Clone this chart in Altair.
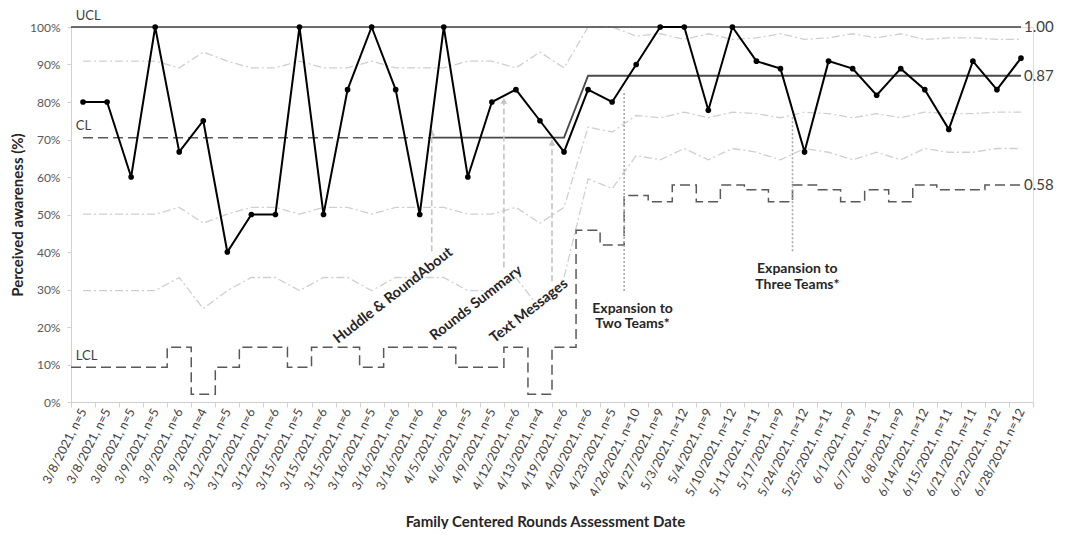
import json
import altair as alt
import pandas as pd

# ---------------- data ----------------
labels = [
    "3/8/2021, n=5", "3/8/2021, n=5", "3/8/2021, n=5", "3/9/2021, n=5", "3/9/2021, n=6",
    "3/9/2021, n=4", "3/12/2021, n=5", "3/12/2021, n=6", "3/12/2021, n=6", "3/15/2021, n=5",
    "3/15/2021, n=6", "3/15/2021, n=6", "3/16/2021, n=5", "3/16/2021, n=6", "3/16/2021, n=6",
    "4/5/2021, n=6", "4/6/2021, n=5", "4/9/2021, n=5", "4/12/2021, n=6", "4/13/2021, n=4",
    "4/19/2021, n=6", "4/20/2021, n=6", "4/23/2021, n=5", "4/26/2021, n=10", "4/27/2021, n=9",
    "5/3/2021, n=12", "5/4/2021, n=9", "5/10/2021, n=12", "5/11/2021, n=11", "5/17/2021, n=9",
    "5/24/2021, n=12", "5/25/2021, n=11", "6/1/2021, n=9", "6/7/2021, n=11", "6/8/2021, n=9",
    "6/14/2021, n=12", "6/15/2021, n=11", "6/21/2021, n=11", "6/22/2021, n=12", "6/28/2021, n=12",
]
awareness = [
    0.800, 0.800, 0.600, 1.000, 0.667, 0.750, 0.400, 0.500, 0.500, 1.000,
    0.500, 0.833, 1.000, 0.833, 0.500, 1.000, 0.600, 0.800, 0.833, 0.750,
    0.667, 0.833, 0.800, 0.900, 1.000, 1.000, 0.778, 1.000, 0.909, 0.889,
    0.667, 0.909, 0.889, 0.818, 0.889, 0.833, 0.727, 0.909, 0.833, 0.917,
]
lcl = [
    0.093, 0.093, 0.093, 0.093, 0.146, 0.021, 0.093, 0.146, 0.146, 0.093,
    0.146, 0.146, 0.093, 0.146, 0.146, 0.146, 0.093, 0.093, 0.146, 0.021,
    0.146, 0.458, 0.419, 0.551, 0.534, 0.579, 0.534, 0.579, 0.566, 0.534,
    0.579, 0.566, 0.534, 0.566, 0.534, 0.579, 0.566, 0.566, 0.579, 0.579,
]
plus1 = [
    0.909, 0.909, 0.909, 0.909, 0.891, 0.933, 0.909, 0.891, 0.891, 0.909,
    0.891, 0.891, 0.909, 0.891, 0.891, 0.891, 0.909, 0.909, 0.891, 0.933,
    0.891, 1.000, 1.000, 0.976, 0.982, 0.967, 0.982, 0.967, 0.971, 0.982,
    0.967, 0.971, 0.982, 0.971, 0.982, 0.967, 0.971, 0.971, 0.967, 0.967,
]
minus1 = [
    0.501, 0.501, 0.501, 0.501, 0.519, 0.477, 0.501, 0.519, 0.519, 0.501,
    0.519, 0.519, 0.501, 0.519, 0.519, 0.519, 0.501, 0.501, 0.519, 0.477,
    0.519, 0.733, 0.720, 0.764, 0.758, 0.773, 0.758, 0.773, 0.769, 0.758,
    0.773, 0.769, 0.758, 0.769, 0.758, 0.773, 0.769, 0.769, 0.773, 0.773,
]
minus2 = [
    0.297, 0.297, 0.297, 0.297, 0.332, 0.249, 0.297, 0.332, 0.332, 0.297,
    0.332, 0.332, 0.297, 0.332, 0.332, 0.332, 0.297, 0.297, 0.332, 0.249,
    0.332, 0.595, 0.569, 0.657, 0.646, 0.676, 0.646, 0.676, 0.666, 0.646,
    0.676, 0.666, 0.646, 0.666, 0.646, 0.676, 0.666, 0.666, 0.676, 0.676,
]
ucl_value = 1.00
cl_phase1 = 0.705
cl_phase2 = 0.87
phase2_start = 21          # index of 4/20/2021
cl_dash_end = 15           # dashed baseline part ends here

ann_text = ["Huddle & RoundAbout", "Rounds Summary", "Text Messages"]
ann_x = [13.4, 16.85, 19.05]
ann_y = [0.283, 0.263, 0.242]
arrow_x = [15, 18, 20]
arrow_from = [0.402, 0.359, 0.322]
arrow_to = [0.726, 0.811, 0.700]

exp_text = ["Expansion to\nTwo Teams*", "Expansion to\nThree Teams*"]
exp_x = [23.35, 30.2]
exp_y = [0.249, 0.354]
dot_x = [23, 30]
dot_from = [0.296, 0.402]
dot_to = [0.83, 0.76]

N = len(labels)
FONT = "Lato"
W, H = 962, 375
BAND = W / N

# ---------------- frames ----------------
pts = pd.DataFrame({"x": [i + 0.5 for i in range(N)], "y": awareness})

lcl_df = pd.DataFrame({"x": list(range(N)) + [N - 0.5], "y": lcl + [lcl[-1]]})

sig_rows = []
for name, arr in [("p1", plus1), ("m1", minus1), ("m2", minus2)]:
    for i, v in enumerate(arr):
        sig_rows.append({"x": i + 0.5, "y": v, "s": name})
sig_df = pd.DataFrame(sig_rows)

ucl_df = pd.DataFrame({"x": [0, N - 0.5], "y": [ucl_value, ucl_value]})
cl_dash_df = pd.DataFrame({"x": [0.5, cl_dash_end], "y": [cl_phase1, cl_phase1]})
cl_solid_df = pd.DataFrame({
    "x": [cl_dash_end, phase2_start - 0.5, phase2_start + 0.5, N - 0.5],
    "y": [cl_phase1, cl_phase1, cl_phase2, cl_phase2],
})

arrows_df = pd.DataFrame({"x": arrow_x, "y": arrow_from, "y2": arrow_to})
dots_df = pd.DataFrame({"x": dot_x, "y": dot_from, "y2": dot_to})
ann_df = pd.DataFrame({"x": ann_x, "y": ann_y, "t": ann_text})
exp_df = pd.DataFrame({"x": exp_x, "y": exp_y, "t": exp_text})

right_df = pd.DataFrame({"x": [N - 0.5] * 3, "y": [ucl_value, cl_phase2, lcl[-1]],
                         "t": ["1.00", "0.87", "0.58"]})
left_df = pd.DataFrame({"x": [0.2] * 3, "y": [ucl_value, cl_phase1, lcl[0]],
                        "t": ["UCL", "CL", "LCL"]})

# ---------------- scales / axes ----------------
label_expr = "datum.value < %d ? %s[datum.value] : ''" % (N, json.dumps(labels))

xscale = alt.Scale(domain=[0, N], nice=False, zero=False)
yscale = alt.Scale(domain=[0, 1], nice=False)

x_axis = alt.Axis(
    values=list(range(N + 1)), tickCount=N + 5, labelExpr=label_expr, labelAngle=-63,
    labelOffset=BAND / 2, labelOverlap=False, labelFlush=False, labelBound=False,
    labelFont=FONT, labelFontSize=12.5, labelColor="#404040", labelPadding=2,
    grid=False, tickSize=5, tickColor="#d0d0d0", domainColor="#d0d0d0",
    title="Family Centered Rounds Assessment Date", titleFont=FONT, titleFontSize=15,
    titleFontWeight="bold", titleColor="#262626", titleX=474, titleY=119,
    titleBaseline="middle", titleAlign="center",
)
y_axis = alt.Axis(
    values=[i / 10 for i in range(11)], tickCount=20, format=".0%", grid=False,
    labelOverlap=False, labelFont=FONT, labelFontSize=12, labelColor="#595959",
    labelPadding=7, tickSize=4, tickColor="#d0d0d0", domainColor="#d0d0d0",
    title="Perceived awareness  (%)", titleFont=FONT, titleFontSize=15,
    titleFontWeight="bold", titleColor="#262626", titleX=-54, titleY=H / 2,
    titleBaseline="middle", titleAlign="center",
)

X = alt.X("x:Q", scale=xscale, axis=x_axis)
Y = alt.Y("y:Q", scale=yscale, axis=y_axis)
Xn = alt.X("x:Q", scale=xscale)
Yn = alt.Y("y:Q", scale=yscale)

# ---------------- layers ----------------
sigma = alt.Chart(sig_df).mark_line(
    color="#cfcfcf", strokeWidth=1.3, strokeDash=[8, 3, 2, 3]
).encode(x=X, y=Y, detail="s:N")

lcl_line = alt.Chart(lcl_df).mark_line(
    color="#595959", strokeWidth=1.5, strokeDash=[10, 5], interpolate="step-after"
).encode(x=Xn, y=Yn)

ucl_line = alt.Chart(ucl_df).mark_line(color="#3f3f3f", strokeWidth=1.4).encode(x=Xn, y=Yn)
cl_dash = alt.Chart(cl_dash_df).mark_line(
    color="#595959", strokeWidth=1.5, strokeDash=[10, 5]
).encode(x=Xn, y=Yn)
cl_solid = alt.Chart(cl_solid_df).mark_line(color="#4a4a4a", strokeWidth=1.9).encode(x=Xn, y=Yn)

arrows = alt.Chart(arrows_df).mark_rule(
    color="#c4c4c4", strokeWidth=1.6, strokeDash=[6, 3]
).encode(x=Xn, y=Yn, y2="y2:Q")
heads = alt.Chart(arrows_df).mark_point(
    shape="triangle-up", filled=True, color="#c4c4c4", size=45, opacity=1, yOffset=3
).encode(x=Xn, y=alt.Y("y2:Q", scale=yscale))

dots = alt.Chart(dots_df).mark_rule(
    color="#a8a8a8", strokeWidth=1.6, strokeDash=[2, 2]
).encode(x=Xn, y=Yn, y2="y2:Q")

data_line = alt.Chart(pts).mark_line(color="#000000", strokeWidth=2).encode(x=Xn, y=Yn)
data_pts = alt.Chart(pts).mark_circle(color="#000000", size=32, opacity=1).encode(x=Xn, y=Yn)

ann = alt.Chart(ann_df).mark_text(
    font=FONT, fontSize=14.5, fontWeight="bold", color="#262626", angle=322,
    align="center", baseline="middle"
).encode(x=Xn, y=Yn, text="t:N")

exp = alt.Chart(exp_df).mark_text(
    font=FONT, fontSize=14, fontWeight="bold", color="#262626", lineBreak="\n",
    lineHeight=15.5, align="center", baseline="middle"
).encode(x=Xn, y=Yn, text="t:N")

right_txt = alt.Chart(right_df).mark_text(
    font=FONT, fontSize=15, color="#404040", align="left", baseline="middle", dx=3
).encode(x=Xn, y=Yn, text="t:N")

left_txt = alt.Chart(left_df).mark_text(
    font=FONT, fontSize=13, color="#404040", align="left", baseline="middle", dy=-11.5
).encode(x=Xn, y=Yn, text="t:N")

chart = alt.layer(
    sigma, lcl_line, ucl_line, cl_dash, cl_solid, arrows, heads, dots,
    data_line, data_pts, ann, exp, right_txt, left_txt
).properties(
    width=W, height=H,
    padding={"left": 2, "top": 1, "right": 0, "bottom": 0},
).configure_view(stroke=None).configure(background="#ffffff")

chart.save("out.html", embed_options={"renderer": "svg", "actions": False})
